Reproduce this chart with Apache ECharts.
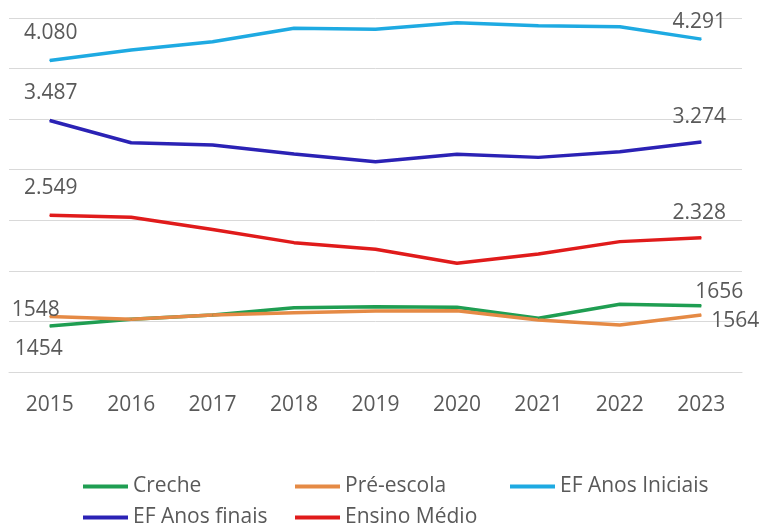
<!DOCTYPE html>
<html>
<head>
<meta charset="utf-8">
<script src="https://cdn.jsdelivr.net/npm/echarts@6/dist/echarts.min.js"></script>
<style>
  html, body { margin: 0; padding: 0; background: #ffffff; }
  #chart { width: 760px; height: 523px; }
</style>
</head>
<body>
<div id="chart"></div>
<script>
// Matrículas por etapa de ensino, 2015–2023
const years = ['2015', '2016', '2017', '2018', '2019', '2020', '2021', '2022', '2023'];

const creche      = [1454, 1521, 1564, 1636, 1646, 1640, 1531, 1669, 1656];
const preEscola   = [1548, 1521, 1564, 1587, 1603, 1606, 1514, 1465, 1564];
const efIniciais  = [4080, 4184, 4266, 4398, 4388, 4454, 4424, 4414, 4291];
const efFinais    = [3487, 3267, 3244, 3155, 3079, 3152, 3122, 3178, 3274];
const ensinoMedio = [2549, 2530, 2409, 2279, 2213, 2075, 2167, 2289, 2328];

const yMin = 1000;
const yMax = 4500;
const yStep = 500;

const FONT = "'Open Sans', sans-serif";
const TEXT_COLOR = '#595959';
const GRID_COLOR = '#d9d9d9';

// pt-BR style thousands separator
function withDots(v) {
  return String(v).replace(/\B(?=(\d{3})+(?!\d))/g, '.');
}

// series styling; first/last label offsets relative to the point
const seriesDefs = [
  { name: 'Creche', values: creche, color: '#1f9e52', dotted: false,
    firstOffset: [-11, 23], lastOffset: [18, -14] },
  { name: 'Pré-escola', values: preEscola, color: '#e58a45', dotted: false,
    firstOffset: [-14, -7], lastOffset: [34, 6] },
  { name: 'EF Anos Iniciais', values: efIniciais, color: '#1eaae2', dotted: true,
    firstOffset: [1, -27], lastOffset: [-2, -17] },
  { name: 'EF Anos finais', values: efFinais, color: '#2b22b5', dotted: true,
    firstOffset: [1, -27], lastOffset: [-2, -25] },
  { name: 'Ensino Médio', values: ensinoMedio, color: '#e01b1b', dotted: true,
    firstOffset: [1, -27], lastOffset: [-2, -25] }
];

function buildSeries(def) {
  const last = def.values.length - 1;
  const data = def.values.map((v, i) => {
    if (i === 0 || i === last) {
      return {
        value: v,
        label: {
          show: true,
          position: 'inside',
          offset: i === 0 ? def.firstOffset : def.lastOffset
        }
      };
    }
    return { value: v, label: { show: false } };
  });
  return {
    name: def.name,
    type: 'line',
    data: data,
    symbol: 'circle',
    symbolSize: 1,
    showSymbol: true,
    showAllSymbol: true,
    smooth: false,
    silent: true,
    animation: false,
    itemStyle: { color: def.color },
    lineStyle: { color: def.color, width: 3.5 },
    label: {
      show: false,
      fontFamily: FONT,
      fontSize: 21,
      color: TEXT_COLOR,
      formatter: p => def.dotted ? withDots(p.value) : String(p.value)
    }
  };
}

// legend laid out as a two-row grid
const legendSlots = [
  { name: 'Creche', left: 83, top: 476 },
  { name: 'Pré-escola', left: 295, top: 476 },
  { name: 'EF Anos Iniciais', left: 510, top: 476 },
  { name: 'EF Anos finais', left: 83, top: 507 },
  { name: 'Ensino Médio', left: 295, top: 507 }
];

const legends = legendSlots.map(s => ({
  data: [s.name],
  left: s.left,
  top: s.top,
  padding: 0,
  icon: 'rect',
  itemWidth: 45,
  itemHeight: 4,
  selectedMode: false,
  textStyle: { fontFamily: FONT, fontSize: 21, color: TEXT_COLOR }
}));

const chart = echarts.init(document.getElementById('chart'), null, { renderer: 'canvas' });

chart.setOption({
  backgroundColor: '#ffffff',
  animation: false,
  textStyle: { fontFamily: FONT },
  grid: { left: 9, right: 18, top: 18, bottom: 151, containLabel: false },
  legend: legends,
  xAxis: {
    type: 'category',
    data: years,
    boundaryGap: true,
    axisLine: { show: true, lineStyle: { color: GRID_COLOR, width: 1 } },
    axisTick: { show: false },
    axisLabel: { fontFamily: FONT, fontSize: 21, color: TEXT_COLOR, margin: 23 },
    splitLine: { show: false }
  },
  yAxis: {
    type: 'value',
    min: yMin,
    max: yMax,
    interval: yStep,
    axisLine: { show: false },
    axisTick: { show: false },
    axisLabel: { show: false },
    splitLine: { show: true, lineStyle: { color: GRID_COLOR, width: 1 } }
  },
  series: seriesDefs.map(buildSeries)
});
</script>
</body>
</html>
